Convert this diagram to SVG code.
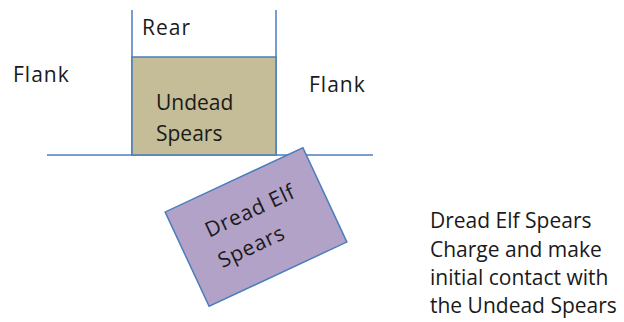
<svg xmlns="http://www.w3.org/2000/svg" width="624" height="322" viewBox="0 0 624 322">
  <style>
    .ln { stroke: #4a7ebb; stroke-width: 1.5; fill: none; }
    .t { font-family: "Open Sans", "Liberation Sans", sans-serif; font-size: 21px; fill: #1a1a1a; }
    .sp { letter-spacing: 1px; }
  </style>
  <rect width="624" height="322" fill="#ffffff"/>

  <g id="connectors">
    <line class="ln" x1="132" y1="10" x2="132" y2="155"/>
    <line class="ln" x1="276" y1="10" x2="276" y2="155"/>
    <line class="ln" x1="47" y1="155" x2="373" y2="155"/>
  </g>

  <g id="rear">
    <text class="t sp" x="142" y="35">Rear</text>
  </g>

  <g id="flank-left">
    <text class="t sp" x="13" y="82">Flank</text>
  </g>

  <g id="flank-right">
    <text class="t sp" x="309" y="92">Flank</text>
  </g>

  <g id="undead-spears">
    <rect x="132" y="57" width="144" height="98" fill="#c4bd97" stroke="#4a7ebb" stroke-width="1.5"/>
    <text class="t" x="156" y="110">Undead</text>
    <text class="t" x="156" y="141">Spears</text>
  </g>

  <g id="dread-elf-spears" transform="translate(256 227) rotate(-25)">
    <rect x="-76" y="-52" width="152" height="104" fill="#b3a2c7" stroke="#4a7ebb" stroke-width="1.5"/>
    <text class="t" x="-47" y="-10" letter-spacing="0.8">Dread Elf</text>
    <text class="t" x="-48" y="23" letter-spacing="0.8">Spears</text>
  </g>

  <g id="note">
    <text class="t" x="430" y="228">Dread Elf Spears</text>
    <text class="t" x="430" y="257">Charge and make</text>
    <text class="t" x="430" y="285">initial contact with</text>
    <text class="t" x="430" y="313">the Undead Spears</text>
  </g>
</svg>
